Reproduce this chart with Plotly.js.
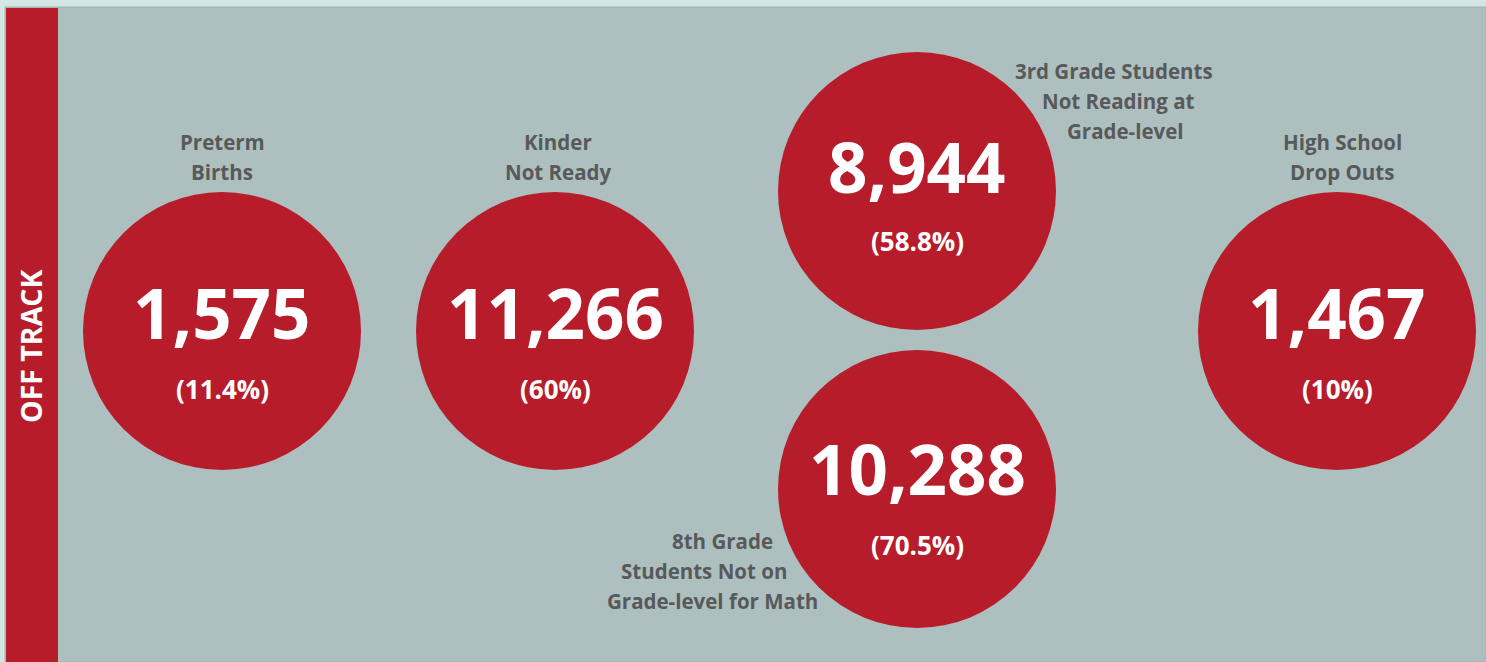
<!DOCTYPE html>
<html>
<head>
<meta charset="utf-8">
<script src="https://cdn.plot.ly/plotly-3.0.1.min.js"></script>
<style>html,body{margin:0;padding:0;background:#d4e6e4;}#chart{width:1486px;height:662px;}</style>
</head>
<body>
<div id="chart"></div>
<script>
// ---- data ----
const categories = ["Preterm<br>Births", "Kinder<br>Not Ready", "3rd Grade Students<br>Not Reading at<br>Grade-level", "8th Grade<br>Students Not on<br>Grade-level for Math", "High School<br>Drop Outs"];
const counts = [1575, 11266, 8944, 10288, 1467];
const percents = ["11.4%", "60%", "58.8%", "70.5%", "10%"];
const sideLabel = "OFF TRACK";

// ---- layout positions (pixels in a 1486x662 frame) ----
const cx = [222, 555, 917, 917, 1337];
const cy = [331, 331, 191, 489, 331];
const numY = [312, 312, 166, 468, 312];
const pctY = [389, 389, 241, 545, 389];
const labelLineX = [[222, 222], [558, 558], [1114, 1118, 1125], [722, 704, 712], [1342, 1342]];
const labelTopY = [141.5, 141.5, 71, 541, 141.5];
const lineStep = 30;
const diameter = 278;

const red = "#b71c2b";
const grey = "#58595b";
const font = "'Open Sans', sans-serif";

const fmt = n => n.toLocaleString("en-US");

const circles = {
  type: "scatter", mode: "markers",
  x: cx, y: cy,
  marker: {size: diameter, color: red, line: {width: 0}},
  hoverinfo: "skip", showlegend: false
};

const annotations = [];
for (let i = 0; i < counts.length; i++) {
  annotations.push({x: cx[i], y: numY[i], xref: "x", yref: "y", text: fmt(counts[i]),
    showarrow: false, font: {family: font, size: 69, color: "white", weight: 700}});
  annotations.push({x: cx[i], y: pctY[i], xref: "x", yref: "y", text: "(" + percents[i] + ")",
    showarrow: false, font: {family: font, size: 26, color: "white", weight: 700}});
  const lines = categories[i].split("<br>");
  lines.forEach((ln, j) => {
    annotations.push({x: labelLineX[i][j], y: labelTopY[i] + j * lineStep, xref: "x", yref: "y", text: ln,
      showarrow: false, font: {family: font, size: 20.5, color: grey, weight: 700}});
  });
}
annotations.push({x: 31, y: 346, xref: "x", yref: "y", text: sideLabel, textangle: -90,
  showarrow: false, font: {family: font, size: 28.5, color: "white", weight: 700}});

const layout = {
  width: 1486, height: 662,
  margin: {l: 0, r: 0, t: 0, b: 0},
  paper_bgcolor: "#d4e6e4", plot_bgcolor: "#d4e6e4",
  xaxis: {range: [0, 1486], visible: false, fixedrange: true},
  yaxis: {range: [662, 0], visible: false, fixedrange: true},
  shapes: [
    {type: "rect", xref: "x", yref: "y", x0: 5, x1: 1486, y0: 7, y1: 662,
     fillcolor: "#adc0bf", line: {color: "#9fb1b0", width: 1}, layer: "below"},
    {type: "rect", xref: "x", yref: "y", x0: 6, x1: 58, y0: 8, y1: 662,
     fillcolor: red, line: {width: 0}, layer: "below"}
  ],
  annotations: annotations,
  showlegend: false
};

Plotly.newPlot("chart", [circles], layout, {staticPlot: true, displayModeBar: false});
</script>
</body>
</html>
